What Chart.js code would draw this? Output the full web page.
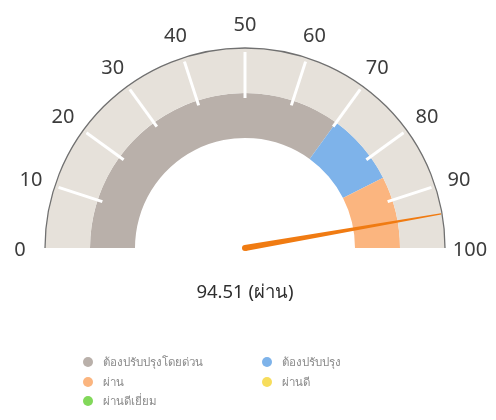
<!DOCTYPE html>
<html>
<head>
<meta charset="utf-8">
<script src="https://cdn.jsdelivr.net/npm/chart.js@4"></script>
<style>
  html, body { margin: 0; padding: 0; background: #fff; }
  #wrap { position: relative; width: 496px; height: 420px; }
  #legend { position: absolute; left: 0; top: 0; width: 496px; height: 420px; pointer-events: none;
            font-family: "Noto Sans", sans-serif; font-size: 11.5px; color: #8a8a8a; }
  .item { position: absolute; display: flex; align-items: center; height: 16px; }
  .dot { width: 10px; height: 10px; border-radius: 50%; margin-right: 10px; }
</style>
</head>
<body>
<div id="wrap">
  <canvas id="gauge" width="496" height="420"></canvas>
  <div id="legend"></div>
</div>
<script>
// ช่วงคะแนน (แถบด้านใน)
const categories = ['ต้องปรับปรุงโดยด่วน', 'ต้องปรับปรุง', 'ผ่าน', 'ผ่านดี', 'ผ่านดีเยี่ยม'];
const bandValues = [70, 15, 15, 0, 0];
const bandColors = ['#b9b0aa', '#7eb3ea', '#fbb57f', '#f7dd5c', '#82d85a'];

// สเกลด้านนอก
const scaleSteps = [10, 10, 10, 10, 10, 10, 10, 10, 10, 10];
const tickLabels = ['0', '10', '20', '30', '40', '50', '60', '70', '80', '90', '100'];

const score = 94.51;
const scoreLabel = 'ผ่าน';

// ตำแหน่ง legend (คอลัมน์ x, แถว y)
const legendCols = [83, 262];
const legendRows = [354, 374, 393];

const gaugeExtras = {
    id: 'gaugeExtras',
    afterDatasetsDraw(chart) {
        const ctx = chart.ctx;
        const outer = chart.getDatasetMeta(0).data;
        const cx = outer[0].x, cy = outer[0].y;
        const R = outer[0].outerRadius;
        const start = outer[0].startAngle;
        const end = outer[outer.length - 1].endAngle;

        // ขีดสีขาวบนวงนอก
        ctx.save();
        ctx.strokeStyle = '#ffffff';
        ctx.lineWidth = 3;
        outer.forEach((arc, i) => {
            if (i === 0) return;
            const a = arc.startAngle;
            ctx.beginPath();
            ctx.moveTo(cx + Math.cos(a) * (R - 50), cy + Math.sin(a) * (R - 50));
            ctx.lineTo(cx + Math.cos(a) * (R - 4), cy + Math.sin(a) * (R - 4));
            ctx.stroke();
        });

        // เส้นขอบนอก
        ctx.strokeStyle = '#707070';
        ctx.lineWidth = 1.3;
        ctx.beginPath();
        ctx.arc(cx, cy, R, start, end);
        ctx.stroke();

        // ตัวเลขสเกล
        ctx.fillStyle = '#3c3c3c';
        ctx.font = '20px "Noto Sans", sans-serif';
        ctx.textAlign = 'center';
        ctx.textBaseline = 'middle';
        tickLabels.forEach((t, i) => {
            const a = start + (end - start) * i / (tickLabels.length - 1);
            ctx.fillText(t, cx + Math.cos(a) * (R + 25), cy + Math.sin(a) * (R + 25) + 2);
        });

        // เข็ม
        const total = bandValues.reduce((s, v) => s + v, 0);
        const na = start + (end - start) * score / total;
        const len = R - 1;
        const px = -Math.sin(na), py = Math.cos(na);
        ctx.fillStyle = '#f07b12';
        ctx.beginPath();
        ctx.moveTo(cx + px * 3, cy + py * 3);
        ctx.lineTo(cx + Math.cos(na) * len + px * 0.7, cy + Math.sin(na) * len + py * 0.7);
        ctx.lineTo(cx + Math.cos(na) * len - px * 0.7, cy + Math.sin(na) * len - py * 0.7);
        ctx.lineTo(cx - px * 3, cy - py * 3);
        ctx.closePath();
        ctx.fill();
        ctx.beginPath();
        ctx.arc(cx, cy, 3, 0, Math.PI * 2);
        ctx.fill();

        // ค่าคะแนน
        ctx.fillStyle = '#2e2e2e';
        ctx.font = '18.5px "Noto Sans", sans-serif';
        ctx.fillText(score.toFixed(2) + ' (' + scoreLabel + ')', cx, cy + 45);
        ctx.restore();
    }
};

new Chart(document.getElementById('gauge'), {
    type: 'doughnut',
    data: {
        labels: categories,
        datasets: [
            { data: scaleSteps, backgroundColor: '#e6e1da', borderWidth: 0 },
            { data: bandValues, backgroundColor: bandColors, borderWidth: 0 }
        ]
    },
    options: {
        responsive: false,
        animation: false,
        rotation: -90,
        circumference: 180,
        cutout: '55%',
        layout: { padding: { left: 45, right: 51, top: 48, bottom: 172 } },
        plugins: { legend: { display: false }, tooltip: { enabled: false } }
    },
    plugins: [gaugeExtras]
});

// legend แบบ HTML
const legendEl = document.getElementById('legend');
categories.forEach((name, i) => {
    const item = document.createElement('div');
    item.className = 'item';
    item.style.left = legendCols[i % 2] + 'px';
    item.style.top = legendRows[Math.floor(i / 2)] + 'px';
    item.innerHTML = '<span class="dot" style="background:' + bandColors[i] + '"></span>' + name;
    legendEl.appendChild(item);
});
</script>
</body>
</html>
